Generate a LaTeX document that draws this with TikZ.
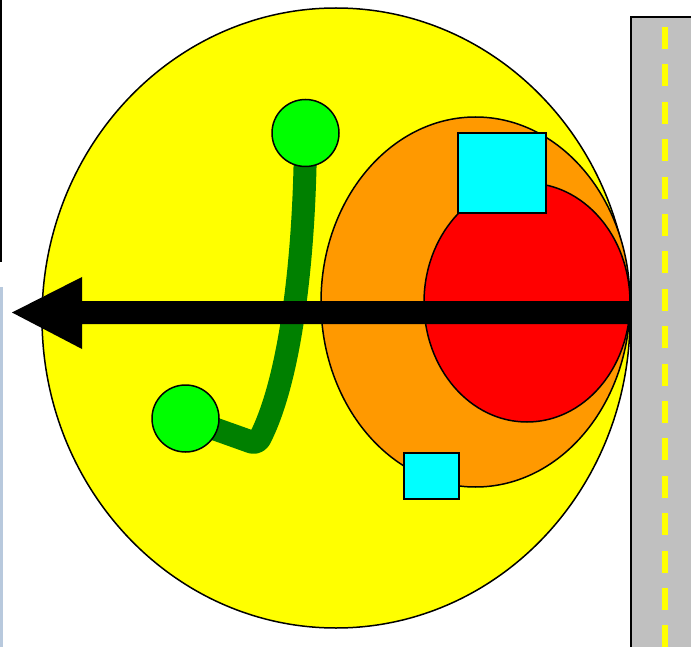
\documentclass[tikz,border=0pt]{standalone}
\usetikzlibrary{shapes.geometric}
\definecolor{roadgray}{HTML}{C0C0C0}
\definecolor{laneyellow}{HTML}{FFFF00}
\definecolor{ballyellow}{HTML}{FFFF00}
\definecolor{zoneorange}{HTML}{FF9900}
\definecolor{corered}{HTML}{FF0000}
\definecolor{boxcyan}{HTML}{00FFFF}
\definecolor{knobgreen}{HTML}{00FF00}
\definecolor{stemgreen}{HTML}{008000}
\definecolor{edgeblue}{HTML}{B8C9DD}
\begin{document}
\begin{tikzpicture}[x=1pt,y=-1pt,
  outline/.style={draw=black,line width=1.5pt},
  knob/.style={circle,fill=knobgreen,draw=black,line width=1.5pt,minimum size=67pt,inner sep=0pt},
  crate/.style={fill=boxcyan,draw=black,line width=1.5pt}]
\useasboundingbox (0,0) rectangle (691,647);
\clip (0,0) rectangle (691,647);

% thin margin rules on the left
\fill[black] (0,0) rectangle (2,262);
\fill[edgeblue] (0,287) rectangle (2.5,647);

% road with dashed centre line
\filldraw[fill=roadgray,draw=black,line width=2pt] (631,17) rectangle (720,680);
\draw[laneyellow,line width=6pt,dash pattern=on 22pt off 15.4pt] (665,27) -- (665,670);

% nested zones
\filldraw[fill=ballyellow,outline] (336,318) ellipse [x radius=294pt,y radius=310pt];
\filldraw[fill=zoneorange,outline] (475.5,302) ellipse [x radius=154.5pt,y radius=185pt];
\filldraw[fill=corered,outline] (527,302.5) ellipse [x radius=103pt,y radius=119.5pt];

% boxes
\filldraw[crate] (458,133) rectangle (546,213);
\filldraw[crate] (404,453) rectangle (459,499);

% green stem between two knobs
\coordinate (ktop) at (305.5,133);
\coordinate (kbot) at (185.5,418.5);
\draw[stemgreen,line width=23pt,line join=round,rounded corners=6pt]
  (ktop) .. controls (305,260) and (290,380) .. (257,444) -- (kbot);
\node[knob] (top) at (ktop) {};
\node[knob] (bot) at (kbot) {};

% big arrow pointing left
\fill[black] (12,312.5) -- (82,277) -- (82,301) -- (630,301) -- (630,324)
  -- (82,324) -- (82,349) -- cycle;
\end{tikzpicture}
\end{document}
